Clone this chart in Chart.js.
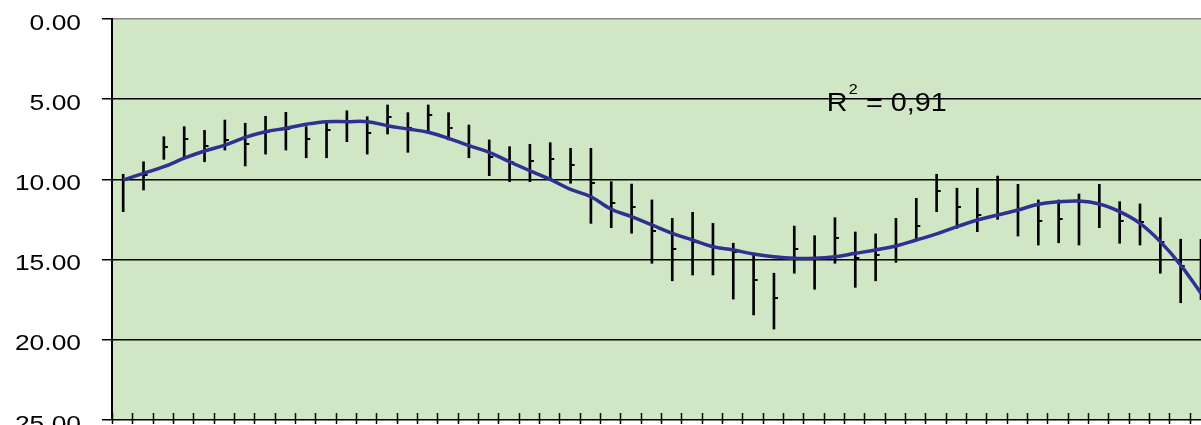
<!DOCTYPE html>
<html>
<head>
<meta charset="utf-8">
<script src="https://cdn.jsdelivr.net/npm/chart.js@4.4.0/dist/chart.umd.min.js"></script>
<style>
  html, body { margin: 0; padding: 0; background: #fff; }
  canvas { display: block; }
</style>
</head>
<body>
<canvas id="chart" width="1201" height="425"></canvas>
<script>
// Values (Y axis reversed, 0 at the top)
const highs = [9.68, 8.90, 7.34, 6.71, 6.94, 6.30, 6.50, 6.07, 5.82, 6.71,
               6.50, 5.72, 6.09, 5.36, 5.84, 5.36, 5.84, 6.61, 7.54, 7.96,
               7.81, 7.71, 8.06, 8.06, 10.14, 10.29, 11.28, 12.43, 12.05, 12.74,
               13.98, 14.71, 15.85, 12.91, 13.51, 12.39, 13.28, 13.40, 12.43, 11.18,
               9.68, 10.55, 10.55, 9.79, 10.31, 11.28, 11.28, 10.91, 10.31, 11.39,
               11.53, 12.39, 13.73, 13.73];
const lows = [12.01, 10.66, 8.75, 8.62, 8.90, 8.17, 9.16, 8.42, 8.17, 8.65,
              8.65, 7.65, 8.42, 7.17, 8.31, 7.09, 7.54, 8.65, 9.77, 10.14,
              10.14, 9.93, 10.24, 12.74, 13.01, 13.36, 15.23, 16.32, 15.96, 15.96,
              17.46, 18.45, 19.33, 15.85, 16.85, 15.23, 16.73, 16.32, 15.17, 13.78,
              12.01, 13.05, 13.26, 12.49, 13.53, 14.09, 13.95, 14.09, 13.01, 13.98,
              14.09, 15.85, 17.69, 17.50];
const means = [10.04, 9.73, 8.00, 7.46, 7.90, 7.54, 7.79, 7.03, 6.86, 7.48,
               6.90, 6.42, 7.13, 6.13, 6.81, 5.99, 6.78, 7.92, 8.58, 8.90,
               8.85, 8.73, 9.10, 10.22, 11.45, 11.74, 13.20, 14.34, 13.92, 14.20,
               14.50, 16.27, 17.41, 14.34, 14.96, 13.67, 14.92, 14.71, 14.09, 12.90,
               10.72, 11.72, 12.20, 12.20, 11.91, 12.57, 12.45, 11.39, 11.60, 12.57,
               12.67, 13.88, 15.40, 16.00];
const trend = [10.04, 9.62, 9.21, 8.68, 8.23, 7.86, 7.38, 7.03, 6.81, 6.56,
               6.40, 6.40, 6.40, 6.65, 6.86, 7.06, 7.44, 7.90, 8.31, 8.90,
               9.46, 10.00, 10.62, 11.08, 11.86, 12.32, 12.84, 13.36, 13.78, 14.20,
               14.40, 14.65, 14.82, 14.92, 14.92, 14.82, 14.61, 14.40, 14.15, 13.78,
               13.40, 12.95, 12.53, 12.22, 11.91, 11.55, 11.40, 11.35, 11.53, 12.01,
               12.74, 13.88, 15.34, 17.10];
const yTicks = [0, 5, 10, 15, 20, 25];
const r2Text = '= 0,91';

const FONT = '"Liberation Sans", Arial, sans-serif';

// small mark to the right of the bar for the mean
const meanMark = document.createElement('canvas');
meanMark.width = 10;
meanMark.height = 2;
meanMark.getContext('2d').fillRect(5, 0, 4, 2);

const decor = {
  id: 'decor',
  beforeDraw(chart) {
    const { ctx, chartArea: a } = chart;
    ctx.save();
    ctx.fillStyle = '#d0e6c5';
    ctx.fillRect(a.left, a.top, a.right - a.left, a.bottom - a.top);
    ctx.restore();
  },
  afterDraw(chart) {
    const { ctx, chartArea: a, scales: { x, y } } = chart;
    ctx.save();
    // tick marks along the category axis
    ctx.strokeStyle = '#000';
    ctx.lineWidth = 1.5;
    for (let v = x.min; v <= x.max + 0.01; v += 1) {
      const px = Math.round(x.getPixelForValue(v)) + 0.5;
      ctx.beginPath();
      ctx.moveTo(px, a.bottom - 7);
      ctx.lineTo(px, a.bottom + 4);
      ctx.stroke();
    }
    // y labels, a bit wider than tall like in the picture
    ctx.fillStyle = '#000';
    ctx.textAlign = 'right';
    ctx.textBaseline = 'alphabetic';
    ctx.font = '22px ' + FONT;
    y.ticks.forEach(t => {
      const py = y.getPixelForValue(t.value);
      ctx.save();
      ctx.translate(a.left - 31, py + 10.5);
      ctx.scale(1.2, 1);
      ctx.fillText(t.value.toFixed(2), 0, 0);
      ctx.restore();
    });
    // R² label
    ctx.textAlign = 'left';
    const tx = x.getPixelForValue(34.6);
    const ty = y.getPixelForValue(5.74);
    ctx.translate(tx, ty);
    ctx.scale(1.15, 1);
    ctx.font = '25px ' + FONT;
    ctx.fillText('R', 0, 0);
    const rw = ctx.measureText('R').width;
    ctx.font = '14px ' + FONT;
    ctx.fillText('2', rw + 1, -17);
    ctx.font = '25px ' + FONT;
    ctx.fillText(r2Text, 34, 0);
    ctx.restore();
  }
};

const idx = trend.map((_, i) => i);

new Chart(document.getElementById('chart'), {
  data: {
    datasets: [
      {
        type: 'line',
        data: idx.map(i => ({ x: i, y: trend[i] })),
        borderColor: '#2e3192',
        borderWidth: 3.5,
        pointRadius: 0,
        tension: 0.4,
        fill: false,
        order: 0
      },
      {
        type: 'line',
        data: idx.map(i => ({ x: i, y: means[i] })),
        showLine: false,
        pointStyle: meanMark,
        pointRadius: 3,
        order: 1
      },
      {
        type: 'bar',
        data: idx.map(i => ({ x: i, y: [highs[i], lows[i]] })),
        backgroundColor: '#000',
        borderWidth: 0,
        barThickness: 2,
        grouped: false,
        order: 2
      }
    ]
  },
  options: {
    responsive: false,
    animation: false,
    events: [],
    layout: { autoPadding: false, padding: { top: 19, bottom: 5, left: 0, right: 0 } },
    plugins: {
      legend: { display: false },
      tooltip: { enabled: false }
    },
    scales: {
      x: {
        type: 'linear',
        min: -0.55,
        max: 53.0,
        offset: false,
        bounds: 'ticks',
        display: false
      },
      y: {
        type: 'linear',
        reverse: true,
        min: 0,
        max: 25,
        afterBuildTicks: s => { s.ticks = yTicks.map(v => ({ value: v })); },
        afterFit: s => { s.width = 112; s.paddingTop = 0; s.paddingBottom = 0; },
        ticks: { display: false },
        grid: {
          color: c => (c.tick && c.tick.value === 0 ? '#8a8a8a' : '#000'),
          lineWidth: 1.5,
          tickColor: '#000',
          tickLength: 10,
          tickWidth: 1.5
        },
        border: { color: '#000', width: 2 }
      }
    }
  },
  plugins: [decor]
});
</script>
</body>
</html>
